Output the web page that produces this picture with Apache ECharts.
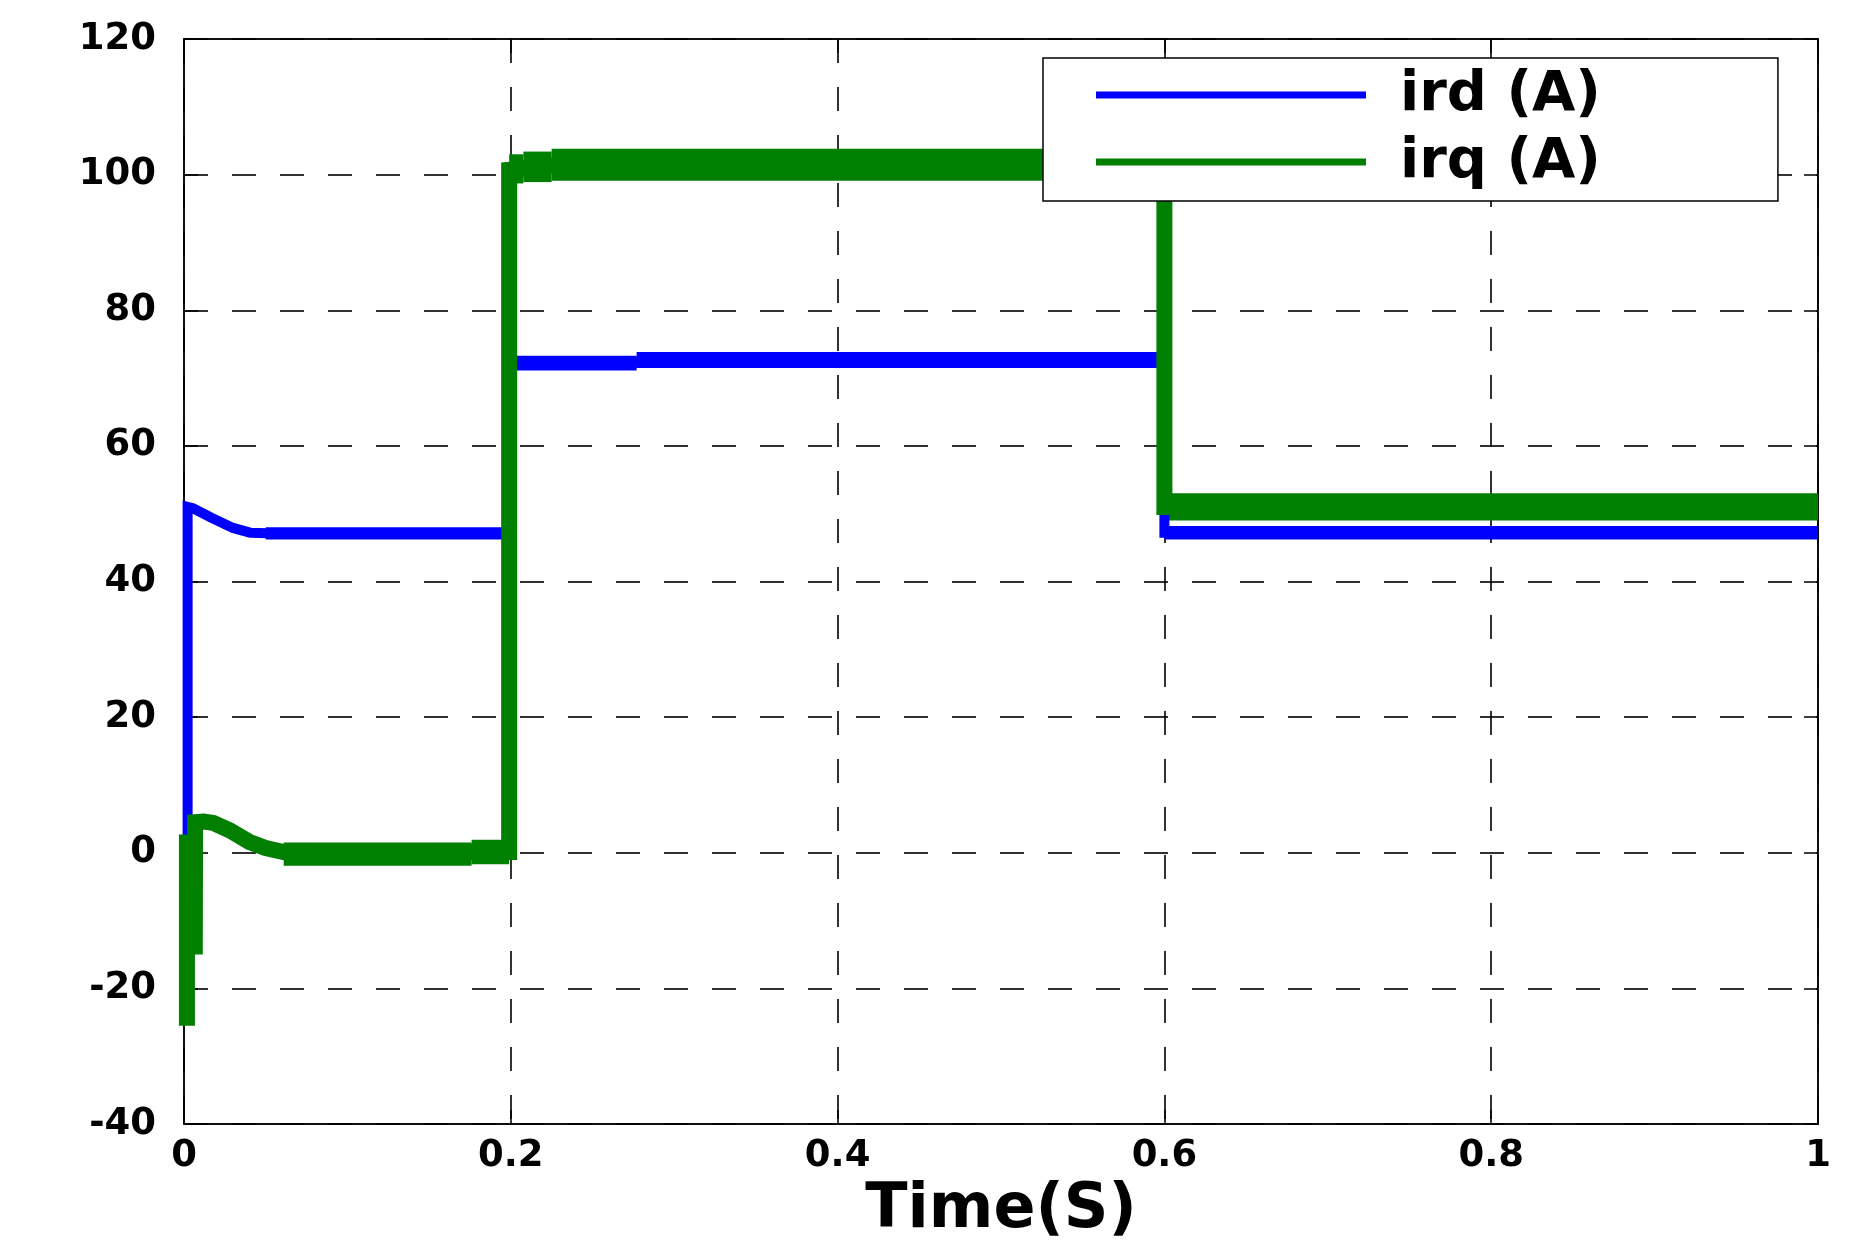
<!DOCTYPE html>
<html>
<head>
<meta charset="utf-8">
<script src="https://cdn.jsdelivr.net/npm/echarts@6/dist/echarts.min.js"></script>
<style>
html,body{margin:0;padding:0;background:#fff;}
#c{width:1866px;height:1259px;}
</style>
</head>
<body>
<div id="c"></div>
<script>
// Series names
const seriesNames = ['ird (A)', 'irq (A)'];
// Axis ranges / ticks
const xRange = [0, 1, 0.2];
const yRange = [-40, 120, 20];
const xTitle = 'Time(S)';

// ird centre line [t, value]
const irdPoints = [
  [0.0022, 2], [0.0022, 51], [0.0055, 50.8], [0.0168, 49.4], [0.030, 47.9],
  [0.0405, 47.2], [0.0507, 47.1], [0.199, 47.1], [0.199, 72.3], [0.277, 72.3],
  [0.280, 72.7], [0.600, 72.7], [0.600, 47.2], [1.0, 47.2]
];
// irq centre line [t, value]
const irqPoints = [
  [0.0018, -25.5], [0.0018, 1.5], [0.0062, 1.5], [0.0066, -15], [0.0068, 4.5],
  [0.012, 4.6], [0.018, 4.4], [0.028, 3.3], [0.040, 1.6], [0.050, 0.7],
  [0.061, 0.1], [0.080, -0.2], [0.120, -0.3], [0.176, 0.1], [0.199, 0.1],
  [0.199, 100.7], [0.2077, 100.9], [0.220, 101.2], [0.230, 101.4], [0.600, 101.4],
  [0.600, 51.0], [1.0, 51.0]
];
// ripple envelopes [t0, t1, low, high]
const irdRipple = [
  [0.050, 0.199, 46.2, 48.0],
  [0.199, 0.277, 71.1, 73.3],
  [0.277, 0.600, 71.5, 73.85],
  [0.600, 1.000, 46.2, 48.2]
];
const irqRipple = [
  [0.061, 0.176, -1.9, 1.5],
  [0.176, 0.199, -1.7, 1.9],
  [0.199, 0.2077, 98.7, 103.0],
  [0.2077, 0.225, 98.9, 103.4],
  [0.225, 0.600, 99.1, 103.8],
  [0.600, 1.000, 49.0, 53.0]
];

const BLUE = '#0000ff';
const GREEN = '#007f00';
const FONT = 'DejaVu Sans';

function bandRenderer(color) {
  return function (params, api) {
    const p0 = api.coord([api.value(0), api.value(3)]);
    const p1 = api.coord([api.value(1), api.value(2)]);
    return {
      type: 'rect',
      shape: { x: p0[0], y: p0[1], width: p1[0] - p0[0], height: p1[1] - p0[1] },
      style: { fill: color }
    };
  };
}

const chart = echarts.init(document.getElementById('c'), null, { renderer: 'canvas' });

const gridLine = { show: true, lineStyle: { color: '#000', width: 1.6, type: [24, 24] } };
const axLine = { show: true, onZero: false, lineStyle: { color: '#000', width: 1.5 } };
const axTick = { show: true, inside: true, length: 14, lineStyle: { color: '#000', width: 1.5 } };

chart.setOption({
  animation: false,
  backgroundColor: '#fff',
  grid: { left: 184, right: 48, top: 39, bottom: 135, show: true, borderColor: '#000', borderWidth: 1.5, backgroundColor: 'transparent' },
  legend: {
    data: seriesNames,
    orient: 'vertical',
    left: 1043,
    top: 58,
    padding: [9, 177, 11, 53],
    itemGap: 11,
    itemWidth: 270,
    itemHeight: 7,
    icon: 'rect',
    backgroundColor: '#fff',
    borderColor: '#000',
    borderWidth: 1.5,
    borderRadius: 0,
    textStyle: { fontFamily: FONT, fontWeight: 'bold', fontSize: 56, lineHeight: 56, color: '#000', padding: [0, 0, 0, 29] }
  },
  xAxis: [{
    type: 'value', min: xRange[0], max: xRange[1], interval: xRange[2],
    position: 'bottom',
    axisLine: axLine,
    axisTick: axTick,
    axisLabel: { fontFamily: FONT, fontWeight: 'bold', fontSize: 37, color: '#000', margin: 14 },
    splitLine: gridLine,
    name: xTitle, nameLocation: 'middle', nameGap: 50,
    nameTextStyle: { fontFamily: FONT, fontWeight: 'bold', fontSize: 62, color: '#000' }
  }, {
    type: 'value', min: xRange[0], max: xRange[1], interval: xRange[2],
    position: 'top',
    axisLine: axLine,
    axisTick: axTick,
    axisLabel: { show: false },
    splitLine: { show: false }
  }],
  yAxis: [{
    type: 'value', min: yRange[0], max: yRange[1], interval: yRange[2],
    position: 'left',
    axisLine: axLine,
    axisTick: axTick,
    axisLabel: { fontFamily: FONT, fontWeight: 'bold', fontSize: 37, color: '#000', margin: 28 },
    splitLine: gridLine
  }, {
    type: 'value', min: yRange[0], max: yRange[1], interval: yRange[2],
    position: 'right',
    axisLine: axLine,
    axisTick: axTick,
    axisLabel: { show: false },
    splitLine: { show: false }
  }],
  series: [
    {
      type: 'custom', xAxisIndex: 0, yAxisIndex: 0, clip: true,
      renderItem: bandRenderer(BLUE),
      encode: { x: [0, 1], y: [2, 3] },
      data: irdRipple, silent: true
    },
    {
      name: seriesNames[0], type: 'line', xAxisIndex: 0, yAxisIndex: 0,
      data: irdPoints, showSymbol: false, symbol: 'none', clip: true,
      color: BLUE,
      lineStyle: { color: BLUE, width: 10, join: 'miter', cap: 'butt' }
    },
    {
      type: 'custom', xAxisIndex: 0, yAxisIndex: 0, clip: true,
      renderItem: bandRenderer(GREEN),
      encode: { x: [0, 1], y: [2, 3] },
      data: irqRipple, silent: true
    },
    {
      name: seriesNames[1], type: 'line', xAxisIndex: 0, yAxisIndex: 0,
      data: irqPoints, showSymbol: false, symbol: 'none', clip: true,
      color: GREEN,
      lineStyle: { color: GREEN, width: 16, join: 'miter', cap: 'butt' }
    }
  ]
});
</script>
</body>
</html>
